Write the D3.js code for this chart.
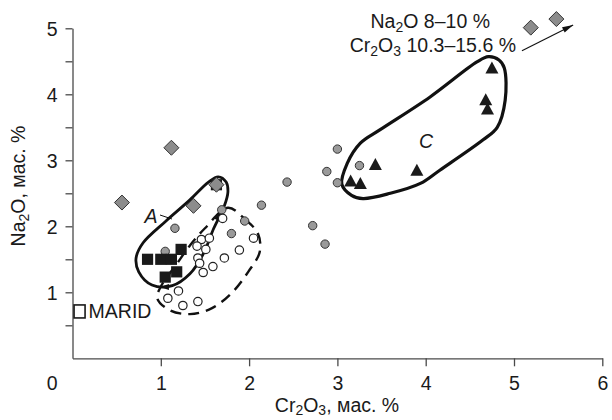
<!DOCTYPE html>
<html><head><meta charset="utf-8">
<script src="https://cdn.jsdelivr.net/npm/d3@7"></script>
<style>body{margin:0;background:#fff}svg{display:block}text{font-family:"Liberation Sans",Arial,sans-serif;fill:#1a1a1a}</style>
</head><body><svg id="c" width="612" height="420"></svg>
<script>
// ---- data (Cr2O3 %, Na2O %) ----
const squaresX = [0.85, 1.00, 1.12, 1.23, 1.18, 1.05, 1.63];
const squaresY = [1.50, 1.50, 1.50, 1.65, 1.31, 1.23, 2.63];
const diamondsX = [0.56, 1.12, 1.37, 1.63, 5.19, 5.48];
const diamondsY = [2.36, 3.19, 2.31, 2.63, 5.01, 5.14];
const greyX = [3.00, 2.88, 2.43, 3.00, 3.25, 2.72, 2.86, 2.14, 1.95, 1.69, 1.16, 1.05, 1.80];
const greyY = [3.17, 2.83, 2.67, 2.66, 2.92, 2.01, 1.73, 2.32, 2.08, 2.25, 1.97, 1.62, 1.89];
const openX = [1.46, 1.55, 1.41, 1.51, 1.42, 1.44, 1.59, 1.72, 1.48, 1.89, 2.05, 1.70, 1.20, 1.08, 1.25, 1.42];
const openY = [1.80, 1.82, 1.70, 1.65, 1.52, 1.44, 1.39, 1.52, 1.30, 1.64, 1.82, 2.12, 1.02, 0.91, 0.80, 0.86];
const triX = [3.43, 3.15, 3.26, 3.90, 4.75, 4.68, 4.70];
const triY = [2.93, 2.68, 2.64, 2.84, 4.39, 3.91, 3.77];
const maridX = [0.08], maridY = [0.71];
// contours
const contourAX = [1.65, 1.74, 1.76, 1.72, 1.60, 1.48, 1.33, 1.13, 0.90, 0.75, 0.72, 0.80, 1.05, 1.33, 1.54];
const contourAY = [2.75, 2.67, 2.52, 2.31, 1.97, 1.58, 1.28, 1.10, 1.11, 1.31, 1.52, 1.75, 2.07, 2.40, 2.67];
const contourBX = [1.76, 1.96, 2.10, 2.12, 1.99, 1.81, 1.58, 1.33, 1.10, 0.96, 1.01, 1.17, 1.33, 1.50];
const contourBY = [2.28, 2.10, 1.89, 1.61, 1.31, 1.00, 0.76, 0.67, 0.73, 0.91, 1.11, 1.41, 1.71, 1.97];
const contourCX = [3.05, 3.11, 3.26, 3.48, 4.05, 4.58, 4.71, 4.83, 4.89, 4.90, 4.81, 4.65, 4.16, 3.94, 3.60, 3.29, 3.16];
const contourCY = [2.64, 2.95, 3.26, 3.46, 3.96, 4.49, 4.57, 4.52, 4.40, 3.91, 3.50, 3.31, 2.85, 2.65, 2.50, 2.42, 2.47];
const xTicks = [1, 2, 3, 4, 5, 6];
const yTicks = [1, 2, 3, 4, 5];
const yMinor = [0.5, 1.5, 2.5, 3.5, 4.5];

const svg = d3.select("#c");
const x = d3.scaleLinear().domain([0, 6]).range([72.5, 602.3]);
const y = d3.scaleLinear().domain([0, 5]).range([358.3, 28.3]);
const FS = 19.5, SUB = 14;
const axisCol = "#4a4a4a";

// axes
const gx = svg.append("g").attr("transform", `translate(0,${y(0)})`)
  .call(d3.axisBottom(x).tickValues(xTicks).tickSize(8).tickSizeOuter(0).tickFormat(d3.format("d")));
gx.select(".domain").attr("stroke", axisCol).attr("stroke-width", 1.3);
gx.selectAll(".tick line").attr("stroke", axisCol).attr("stroke-width", 1.3);
gx.selectAll(".tick text").attr("font-size", FS).attr("y", 32).attr("dy", 0).attr("fill", "#1a1a1a");

const gy = svg.append("g").attr("transform", `translate(${x(0)},0)`)
  .call(d3.axisLeft(y).tickValues(yTicks.concat(yMinor)).tickSize(7).tickSizeOuter(0)
    .tickFormat(d => Number.isInteger(d) ? d3.format("d")(d) : ""));
gy.select(".domain").attr("stroke", axisCol).attr("stroke-width", 1.3);
gy.selectAll(".tick line").attr("stroke", axisCol).attr("stroke-width", 1.3);
gy.selectAll(".tick text").attr("font-size", FS).attr("x", -15).attr("dy", "0.35em").attr("fill", "#1a1a1a");
// origin label
svg.append("text").attr("x", x(0) - 15).attr("y", y(0) + 32).attr("text-anchor", "end")
  .attr("font-size", FS).text("0");

// axis titles
const xt = svg.append("text").attr("x", 337).attr("y", 412).attr("text-anchor", "middle").attr("font-size", FS);
xt.append("tspan").text("Cr");
xt.append("tspan").attr("font-size", SUB).attr("dy", 3).text("2");
xt.append("tspan").attr("dy", -3).text("O");
xt.append("tspan").attr("font-size", SUB).attr("dy", 3).text("3");
xt.append("tspan").attr("dy", -3).text(", мас. %");

const yt = svg.append("text").attr("transform", "translate(25,186) rotate(-90)").attr("text-anchor", "middle").attr("font-size", FS);
yt.append("tspan").text("Na");
yt.append("tspan").attr("font-size", SUB).attr("dy", 4).text("2");
yt.append("tspan").attr("dy", -4).text("O, мас. %");

// contours
const line = d3.line().x(d => x(d[0])).y(d => y(d[1])).curve(d3.curveCatmullRomClosed.alpha(0.5));
const A = d3.zip(contourAX, contourAY), B = d3.zip(contourBX, contourBY), C = d3.zip(contourCX, contourCY);
svg.append("path").attr("d", line(B)).attr("fill", "none").attr("stroke", "#111").attr("stroke-width", 2.4).attr("stroke-dasharray", "11,7");
svg.append("path").attr("d", line(A)).attr("fill", "none").attr("stroke", "#111").attr("stroke-width", 2.8);
svg.append("path").attr("d", line(C)).attr("fill", "none").attr("stroke", "#111").attr("stroke-width", 3.2);

// arrowheads on contour A
function arrowHead(px, py, ang, len, wid) {
  const a = ang * Math.PI / 180;
  const bx = px - len * Math.cos(a), by = py - len * Math.sin(a);
  const nx = -Math.sin(a) * wid / 2, ny = Math.cos(a) * wid / 2;
  return `M${px},${py}L${bx + nx},${by + ny}L${bx - nx},${by - ny}Z`;
}
svg.append("path").attr("d", arrowHead(x(1.68), y(2.22), -65, 9, 6)).attr("fill", "#111");
svg.append("path").attr("d", arrowHead(x(0.99), y(1.08), 180, 9, 6)).attr("fill", "#111");

// labels A, C
svg.append("line").attr("x1", 160).attr("y1", 215).attr("x2", 172).attr("y2", 219).attr("stroke", "#111").attr("stroke-width", 1);
svg.append("text").attr("x", 151).attr("y", 223).attr("text-anchor", "middle").attr("font-size", FS).attr("font-style", "italic").text("A");
svg.append("text").attr("x", 426).attr("y", 148).attr("text-anchor", "middle").attr("font-size", FS).attr("font-style", "italic").text("C");

// points
const pts = (xs, ys) => d3.zip(xs, ys);
svg.append("g").selectAll("circle.g").data(pts(greyX, greyY)).join("circle")
  .attr("cx", d => x(d[0])).attr("cy", d => y(d[1])).attr("r", 4.2)
  .attr("fill", "#9a9a9a").attr("stroke", "#333").attr("stroke-width", 1);
svg.append("g").selectAll("circle.o").data(pts(openX, openY)).join("circle")
  .attr("cx", d => x(d[0])).attr("cy", d => y(d[1])).attr("r", 4.2)
  .attr("fill", "#fff").attr("stroke", "#222").attr("stroke-width", 1.2);
svg.append("g").selectAll("rect").data(pts(squaresX, squaresY)).join("rect")
  .attr("x", d => x(d[0]) - 5.6).attr("y", d => y(d[1]) - 5.6).attr("width", 11.2).attr("height", 11.2).attr("fill", "#1a1a1a");
svg.append("g").selectAll("path").data(pts(diamondsX, diamondsY)).join("path")
  .attr("d", d => { const cx = x(d[0]), cy = y(d[1]), r = 7.5; return `M${cx},${cy - r}L${cx + r},${cy}L${cx},${cy + r}L${cx - r},${cy}Z`; })
  .attr("fill", "#8c8c8c").attr("stroke", "#333").attr("stroke-width", 1);
svg.append("g").selectAll("path").data(pts(triX, triY)).join("path")
  .attr("d", d => { const cx = x(d[0]), cy = y(d[1]); return `M${cx},${cy - 7}L${cx + 6.5},${cy + 5}L${cx - 6.5},${cy + 5}Z`; })
  .attr("fill", "#1a1a1a");

// MARID
svg.append("rect").attr("x", x(maridX[0]) - 5.5).attr("y", y(maridY[0]) - 6.5).attr("width", 11).attr("height", 13)
  .attr("fill", "#fff").attr("stroke", "#1a1a1a").attr("stroke-width", 1.6);
svg.append("text").attr("x", x(maridX[0]) + 9).attr("y", y(maridY[0]) + 7).attr("font-size", FS).text("MARID");

// annotation top right
const arrowFrom = [5.09, 4.66], arrowTo = [5.67, 5.05];
svg.append("line").attr("x1", x(arrowFrom[0])).attr("y1", y(arrowFrom[1])).attr("x2", x(arrowTo[0])).attr("y2", y(arrowTo[1]))
  .attr("stroke", "#111").attr("stroke-width", 1.1);
const ang = Math.atan2(y(arrowTo[1]) - y(arrowFrom[1]), x(arrowTo[0]) - x(arrowFrom[0])) * 180 / Math.PI;
svg.append("path").attr("d", arrowHead(x(arrowTo[0]), y(arrowTo[1]), ang, 11, 6)).attr("fill", "#111");

const t1 = svg.append("text").attr("x", 490).attr("y", 28).attr("text-anchor", "end").attr("font-size", FS);
t1.append("tspan").text("Na");
t1.append("tspan").attr("font-size", SUB).attr("dy", 4).text("2");
t1.append("tspan").attr("dy", -4).text("O 8–10 %");
const t2 = svg.append("text").attr("x", 516).attr("y", 52).attr("text-anchor", "end").attr("font-size", FS);
t2.append("tspan").text("Cr");
t2.append("tspan").attr("font-size", SUB).attr("dy", 4).text("2");
t2.append("tspan").attr("dy", -4).text("O");
t2.append("tspan").attr("font-size", SUB).attr("dy", 4).text("3");
t2.append("tspan").attr("dy", -4).text(" 10.3–15.6 %");
</script></body></html>
